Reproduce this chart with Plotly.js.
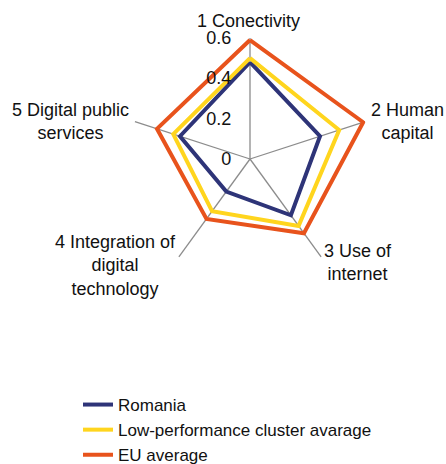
<!DOCTYPE html>
<html>
<head>
<meta charset="utf-8">
<script src="https://cdn.plot.ly/plotly-3.0.1.min.js"></script>
<style>
  html, body { margin: 0; padding: 0; background: #fff; }
  #chart { width: 446px; height: 464px; }
</style>
</head>
<body>
<div id="chart"></div>
<script>
// dimensiones del indice DESI
var categorias = [
  "1 Conectivity",
  "2 Human<br>capital",
  "3 Use of<br>internet",
  "4 Integration of<br>digital<br>technology",
  "5 Digital public<br>services"
];
var romania = [0.48, 0.365, 0.345, 0.2, 0.365];
var cluster = [0.5, 0.465, 0.41, 0.32, 0.4];
var euAvg = [0.59, 0.59, 0.455, 0.367, 0.485];

var nombres = ["Romania", "Low-performance cluster avarage", "EU average"];
var colores = ["#2e3478", "#ffd51e", "#e8531c"];
var radialTicks = [0, 0.2, 0.4, 0.6];

// cerrar el poligono repitiendo el primer punto
function cerrar(arr) {
  return arr.concat([arr[0]]);
}

var series = [romania, cluster, euAvg];
var trazas = [];
for (var i = 0; i < series.length; i++) {
  trazas.push({
    type: "scatterpolar",
    mode: "lines",
    r: cerrar(series[i]),
    theta: cerrar(categorias),
    name: nombres[i],
    line: { color: colores[i], width: 4 },
    hoverinfo: "skip"
  });
}

var W = 446, H = 464;
var cx = 250, cy = 159, rad = 121;

// etiquetas de las dimensiones (centro de cada bloque de texto, en px)
var etqX = [249, 407, 358, 115, 70];
var etqY = [21, 121, 262, 265, 121];
var anotaciones = [];
for (var k = 0; k < categorias.length; k++) {
  anotaciones.push({
    text: categorias[k],
    xref: "paper",
    yref: "paper",
    x: etqX[k] / W,
    y: (H - etqY[k]) / H,
    xanchor: "center",
    yanchor: "middle",
    align: "center",
    showarrow: false,
    font: { size: 18, color: "#111" }
  });
}

var layout = {
  width: W,
  height: H,
  margin: { l: 0, r: 0, t: 0, b: 0, autoexpand: false },
  paper_bgcolor: "#ffffff",
  plot_bgcolor: "#ffffff",
  font: { family: "Liberation Sans, Arial, sans-serif", size: 18, color: "#111" },
  showlegend: true,
  legend: {
    x: 78 / W,
    y: (H - 387) / H,
    xanchor: "left",
    yanchor: "top",
    font: { size: 17, color: "#111" },
    tracegroupgap: 0,
    bgcolor: "rgba(0,0,0,0)"
  },
  annotations: anotaciones,
  polar: {
    domain: {
      x: [(cx - rad) / W, (cx + rad) / W],
      y: [(H - cy - rad) / H, (H - cy + rad) / H]
    },
    bgcolor: "#ffffff",
    radialaxis: {
      range: [0, 0.6],
      angle: 90,
      tickangle: 90,
      side: "counterclockwise",
      tickvals: radialTicks,
      ticktext: radialTicks.map(String),
      showgrid: false,
      showline: false,
      ticks: "outside",
      ticklen: 12,
      tickcolor: "rgba(0,0,0,0)",
      tickfont: { size: 18, color: "#111" }
    },
    angularaxis: {
      rotation: 90,
      direction: "clockwise",
      showline: false,
      showgrid: true,
      gridcolor: "#8c8c8c",
      gridwidth: 1.3,
      ticks: "",
      showticklabels: false
    }
  }
};

Plotly.newPlot("chart", trazas, layout, { displayModeBar: false, staticPlot: true });
</script>
</body>
</html>
